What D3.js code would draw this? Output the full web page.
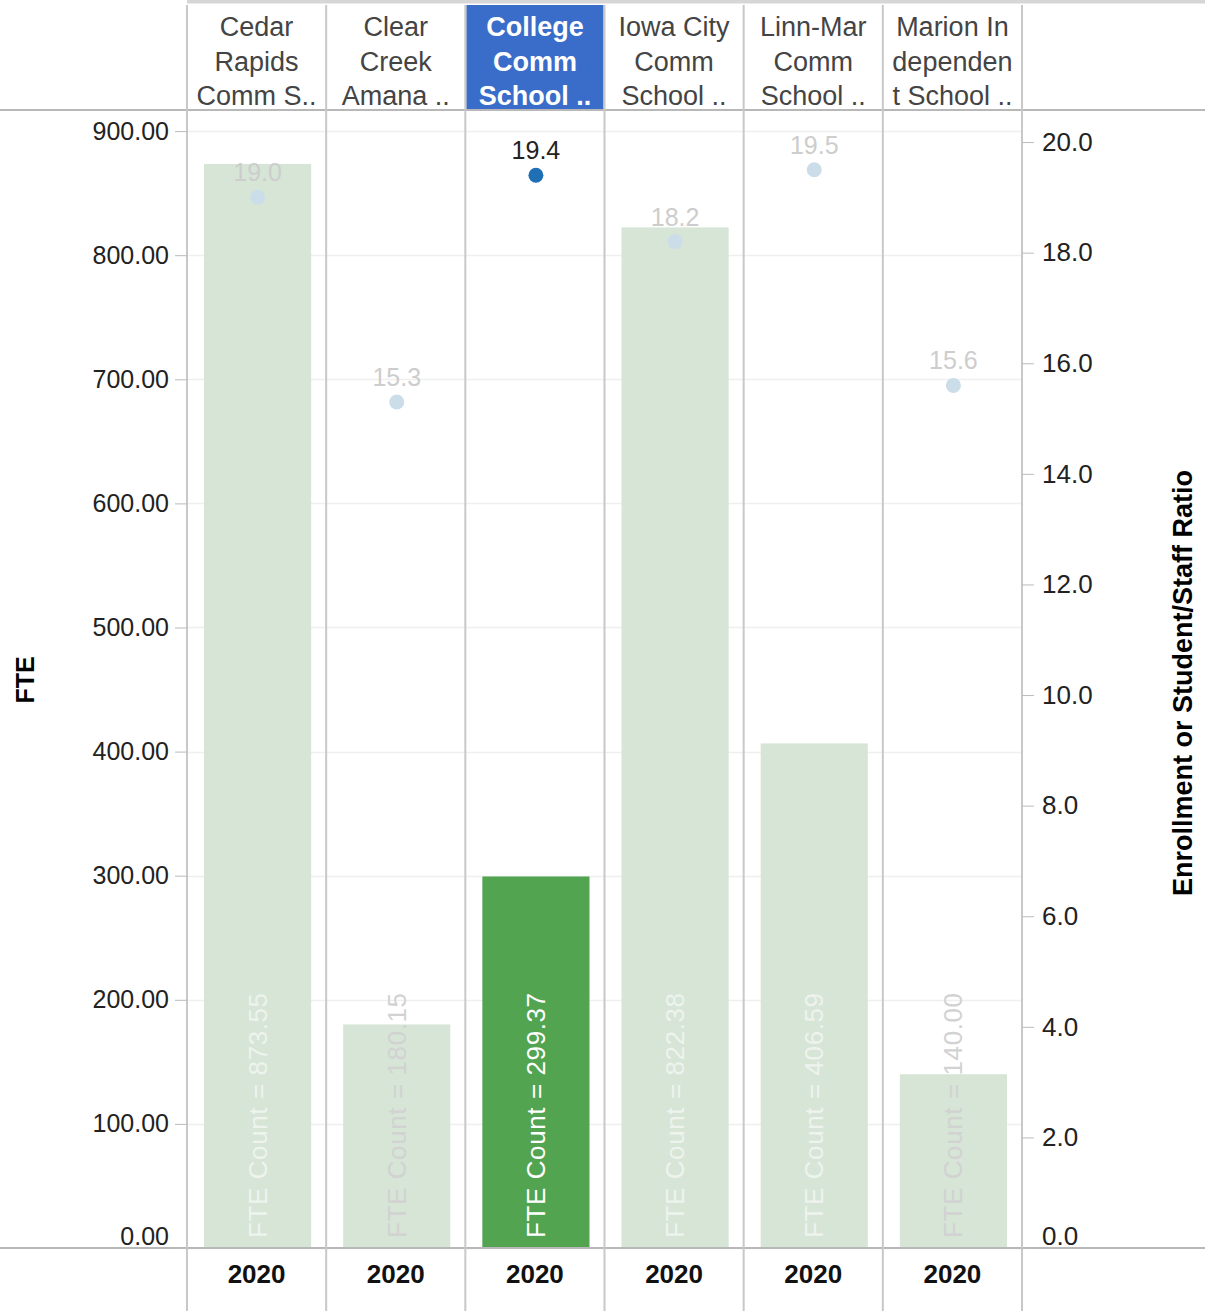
<!DOCTYPE html>
<html>
<head>
<meta charset="utf-8">
<script src="https://cdn.jsdelivr.net/npm/d3@7"></script>
<style>
  body { margin: 0; background: #fff; }
  svg text { font-family: Arial, "Liberation Sans", sans-serif; }
</style>
</head>
<body>
<div id="chart"></div>
<script>
// districts, header text as wrapped in the original (truncated with ..)
var districts = ['Cedar Rapids', 'Clear Creek', 'College', 'Iowa City', 'Linn-Mar', 'Marion'];
var headerLines = [
  ['Cedar', 'Rapids', 'Comm S..'],
  ['Clear', 'Creek', 'Amana ..'],
  ['College', 'Comm', 'School ..'],
  ['Iowa City', 'Comm', 'School ..'],
  ['Linn-Mar', 'Comm', 'School ..'],
  ['Marion In', 'dependen', 't School ..']
];
var years = ['2020', '2020', '2020', '2020', '2020', '2020'];
var fteCount = [873.55, 180.15, 299.37, 822.38, 406.59, 140.00];
var ratio = [19.0, 15.3, 19.4, 18.2, 19.5, 15.6];
var fteTicks = [0, 100, 200, 300, 400, 500, 600, 700, 800, 900];
var ratioTicks = [0, 2, 4, 6, 8, 10, 12, 14, 16, 18, 20];
var selected = 'College';

var W = 1205, H = 1311;
var plotTop = 110, plotBottom = 1248;
var left = 187, right = 1022;

var svg = d3.select("#chart").append("svg")
  .attr("width", W).attr("height", H);

var x = d3.scaleBand().domain(districts).range([left, right]).paddingInner(0).paddingOuter(0);
var yL = d3.scaleLinear().domain([0, 917]).range([plotBottom, plotTop]);
var yR = d3.scaleLinear().domain([0, 20.58]).range([plotBottom, plotTop]);

var rows = districts.map(function(d, i) {
  return { name: d, lines: headerLines[i], year: years[i], fte: fteCount[i], ratio: ratio[i], sel: d === selected };
});

// gridlines
svg.append("g").selectAll("line").data(fteTicks).enter().append("line")
  .attr("x1", left).attr("x2", right)
  .attr("y1", function(d) { return Math.round(yL(d)) + 0.5; })
  .attr("y2", function(d) { return Math.round(yL(d)) + 0.5; })
  .style("stroke", "#efefef").style("stroke-width", 1.5);

// header highlight
svg.append("rect")
  .attr("x", x(selected) + 1).attr("y", 5)
  .attr("width", x.bandwidth() - 2).attr("height", plotTop - 6)
  .style("fill", "#3a6dc9");

// bars
var bw = x.bandwidth() * 0.77;
svg.append("g").selectAll("rect").data(rows).enter().append("rect")
  .attr("x", function(d) { return x(d.name) + (x.bandwidth() - bw) / 2 + 1; })
  .attr("y", function(d) { return yL(d.fte); })
  .attr("width", bw)
  .attr("height", function(d) { return plotBottom - yL(d.fte); })
  .style("fill", function(d) { return d.sel ? "#53a451" : "#d6e5d6"; });

// bar labels (rotated)
svg.append("g").selectAll("text").data(rows).enter().append("text")
  .attr("transform", function(d) {
    return "translate(" + (x(d.name) + x.bandwidth() / 2 + 10) + "," + (plotBottom - 10) + ") rotate(-90)";
  })
  .style("font-size", "26px")
  .style("letter-spacing", "0.6px")
  .style("fill", function(d) {
    if (d.sel) return "#ffffff";
    return (plotBottom - yL(d.fte)) > 260 ? "#eef3ee" : "#d2d2d2";
  })
  .text(function(d) { return "FTE Count = " + d.fte.toFixed(2); });

// ratio dots
svg.append("g").selectAll("circle").data(rows).enter().append("circle")
  .attr("cx", function(d) { return x(d.name) + x.bandwidth() / 2 + 1; })
  .attr("cy", function(d) { return yR(d.ratio); })
  .attr("r", 7.5)
  .style("fill", function(d) { return d.sel ? "#1f6fb5" : "#cbdde8"; });

svg.append("g").selectAll("text").data(rows).enter().append("text")
  .attr("x", function(d) { return x(d.name) + x.bandwidth() / 2 + 1; })
  .attr("y", function(d) { return yR(d.ratio) - 16; })
  .attr("text-anchor", "middle")
  .style("font-size", "25px")
  .style("fill", function(d) { return d.sel ? "#222" : "#cdcdcd"; })
  .text(function(d) { return d.ratio.toFixed(1); });

// header text
var head = svg.append("g").selectAll("g").data(rows).enter().append("g");
head.each(function(d) {
  var g = d3.select(this);
  d.lines.forEach(function(line, i) {
    g.append("text")
      .attr("x", x(d.name) + x.bandwidth() / 2)
      .attr("y", 36 + i * 34.5)
      .attr("text-anchor", "middle")
      .style("font-size", "27px")
      .style("font-weight", d.sel ? "bold" : "normal")
      .style("fill", d.sel ? "#fff" : "#444")
      .text(line);
  });
});

// footer years
svg.append("g").selectAll("text").data(rows).enter().append("text")
  .attr("x", function(d) { return x(d.name) + x.bandwidth() / 2; })
  .attr("y", 1283)
  .attr("text-anchor", "middle")
  .style("font-size", "26px").style("font-weight", "bold").style("fill", "#111")
  .text(function(d) { return d.year; });

// frame lines
var frame = svg.append("g").style("stroke", "#c8c8c8").style("stroke-width", 2);
frame.append("line").attr("x1", left).attr("x2", W).attr("y1", 1.5).attr("y2", 1.5).style("stroke", "#d6d6d6").style("stroke-width", 4);
frame.append("line").attr("x1", 0).attr("x2", W).attr("y1", plotTop).attr("y2", plotTop).style("stroke", "#b8b8b8");
frame.append("line").attr("x1", 0).attr("x2", W).attr("y1", plotBottom).attr("y2", plotBottom).style("stroke", "#b8b8b8");
var seps = districts.map(function(d) { return x(d); }).concat([right]);
frame.selectAll("line.sep").data(seps).enter().append("line")
  .attr("class", "sep")
  .attr("x1", function(d) { return d; }).attr("x2", function(d) { return d; })
  .attr("y1", 5).attr("y2", H);

// left axis
var axL = svg.append("g").attr("transform", "translate(" + left + ",0)")
  .call(d3.axisLeft(yL).tickValues(fteTicks).tickFormat(d3.format(".2f")).tickSize(12).tickPadding(6));
axL.select(".domain").remove();
axL.selectAll(".tick line").style("stroke", "#bbb");
axL.selectAll(".tick text").style("font-size", "25px").style("fill", "#222")
  .attr("dy", function(d) { return d === 0 ? "-0.15em" : "0.32em"; });

// right axis
var axR = svg.append("g").attr("transform", "translate(" + right + ",0)")
  .call(d3.axisRight(yR).tickValues(ratioTicks).tickFormat(d3.format(".1f")).tickSize(12).tickPadding(8));
axR.select(".domain").remove();
axR.selectAll(".tick line").style("stroke", "#bbb");
axR.selectAll(".tick text").style("font-size", "26px").style("fill", "#222")
  .attr("dy", function(d) { return d === 0 ? "-0.15em" : "0.32em"; });

// axis titles
svg.append("text")
  .attr("transform", "translate(34,680) rotate(-90)")
  .attr("text-anchor", "middle")
  .style("font-size", "25px").style("font-weight", "bold").style("fill", "#000")
  .text("FTE");
svg.append("text")
  .attr("transform", "translate(1192,683) rotate(-90)")
  .attr("text-anchor", "middle")
  .style("font-size", "27px").style("font-weight", "bold").style("fill", "#000")
  .text("Enrollment or Student/Staff Ratio");
</script>
</body>
</html>
